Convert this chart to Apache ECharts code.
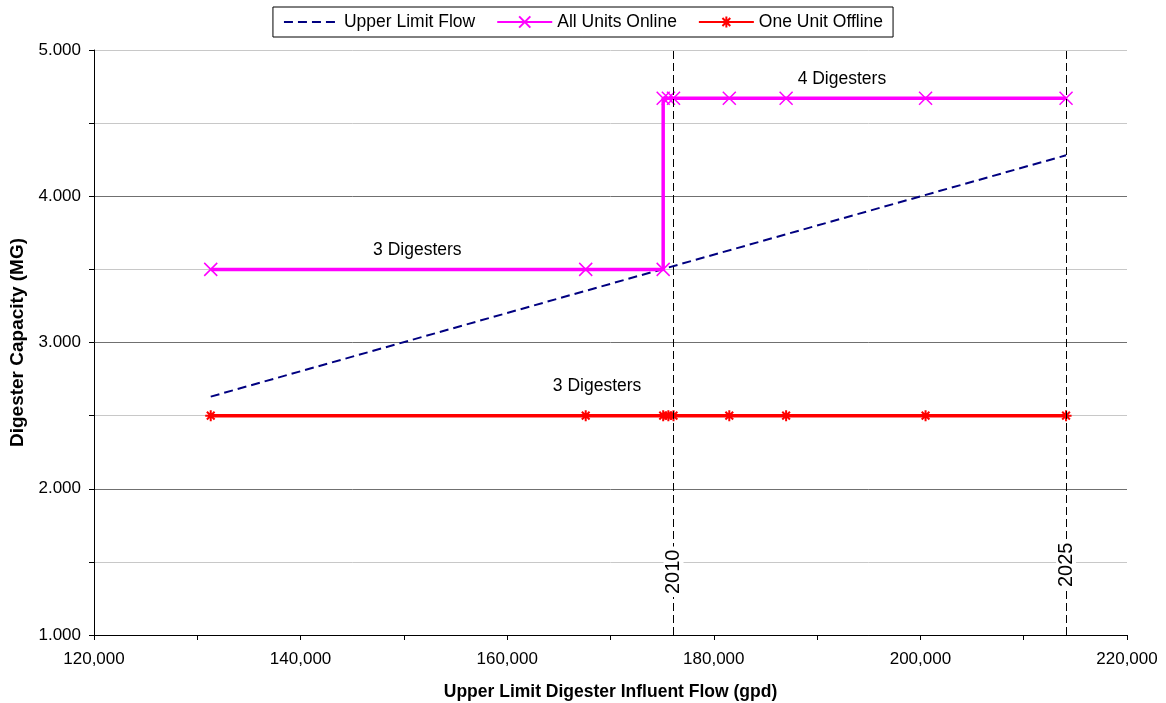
<!DOCTYPE html>
<html>
<head>
<meta charset="utf-8">
<script src="https://cdn.jsdelivr.net/npm/echarts@6/dist/echarts.min.js"></script>
<style>
  html, body { margin: 0; padding: 0; background: #fff; }
  #chart { width: 1166px; height: 703px; }
</style>
</head>
<body>
<div id="chart"></div>
<script>
// 数据
var flowAll = [131300, 167600, 175100, 175100, 175600, 176100, 181500, 187000, 200500, 214100]
var allOnline = [3.5, 3.5, 3.5, 4.67, 4.67, 4.67, 4.67, 4.67, 4.67, 4.67]
var flowOff = [131300, 167600, 175100, 175600, 176100, 181500, 187000, 200500, 214100]
var oneOffline = [2.5, 2.5, 2.5, 2.5, 2.5, 2.5, 2.5, 2.5, 2.5]
var flowUpper = [131300, 214100]
var upperLimit = [2.63, 4.28]
var yearFlow = [176100, 214100]
var yearLabel = ['2010', '2025']
var noteText = ['3 Digesters', '4 Digesters', '3 Digesters']
var noteFlow = [151300, 192400, 168700]
var noteCap = [3.63, 4.80, 2.70]

function zip (xs, ys) {
  return xs.map(function (x, i) { return [x, ys[i]] })
}

var crossPath = 'path://M0,0L10,10M10,0L0,10'
var starPath = 'path://M0,5L10,5M5,0L5,10M1.5,1.5L8.5,8.5M8.5,1.5L1.5,8.5'
var gridDark = '#707070'
var gridLight = '#c8c8c8'
// 年份标签离底部的距离
var yearLabelGap = [38, 45]

var mychart = echarts.init(document.getElementById('chart'))
var option = {
  animation: false,
  textStyle: { fontFamily: 'Liberation Sans, Arial, sans-serif' },
  legend: {
    left: 'center',
    top: 7,
    borderColor: '#000',
    borderWidth: 1,
    borderRadius: 0,
    padding: [6, 10, 6, 10],
    itemWidth: 55,
    itemHeight: 14,
    itemGap: 21,
    textStyle: { fontSize: 17.5, color: '#000' },
    data: ['Upper Limit Flow', 'All Units Online', 'One Unit Offline']
  },
  grid: { left: 94, right: 39, top: 50, bottom: 68, outerBoundsMode: 'none' },
  xAxis: {
    type: 'value',
    min: 120000,
    max: 220000,
    interval: 10000,
    name: 'Upper Limit Digester Influent Flow (gpd)',
    nameLocation: 'middle',
    nameGap: 48,
    nameTextStyle: { fontSize: 17.5, fontWeight: 'bold', color: '#000' },
    axisLine: { lineStyle: { color: '#000', width: 1 } },
    axisTick: { length: 5, lineStyle: { color: '#000' } },
    axisLabel: {
      fontSize: 17,
      color: '#000',
      margin: 16,
      formatter: function (v) {
        return v % 20000 === 0 ? v.toLocaleString('en-US') : ''
      }
    },
    splitLine: { show: false }
  },
  yAxis: {
    type: 'value',
    min: 1,
    max: 5,
    interval: 0.5,
    name: 'Digester Capacity (MG)',
    nameLocation: 'middle',
    nameGap: 62,
    nameTextStyle: { fontSize: 19, fontWeight: 'bold', color: '#000' },
    axisLine: { show: true, lineStyle: { color: '#000', width: 1 } },
    axisTick: { show: true, length: 5, lineStyle: { color: '#000' } },
    axisLabel: {
      fontSize: 17,
      color: '#000',
      margin: 13,
      formatter: function (v) {
        return v % 1 === 0 ? v.toFixed(3) : ''
      }
    },
    splitLine: {
      show: true,
      lineStyle: {
        color: [gridDark, gridLight, gridDark, gridLight, gridDark, gridLight, gridDark, gridLight, gridLight],
        width: 1
      }
    }
  },
  series: [
    {
      name: 'Upper Limit Flow',
      type: 'line',
      data: zip(flowUpper, upperLimit),
      symbol: 'none',
      itemStyle: { color: 'rgba(0,0,0,0)' },
      lineStyle: { color: '#000080', width: 2, type: [9, 5] },
      z: 3
    },
    {
      name: 'All Units Online',
      type: 'line',
      data: zip(flowAll, allOnline),
      symbol: crossPath,
      symbolSize: 13,
      showAllSymbol: true,
      color: '#ff00ff',
      itemStyle: { color: '#ff00ff', borderColor: '#ff00ff', borderWidth: 1.5 },
      lineStyle: { color: '#ff00ff', width: 3.5 },
      z: 4,
      markPoint: {
        symbol: 'circle',
        symbolSize: 0,
        label: { show: true, position: 'inside', fontSize: 17.5, color: '#000', formatter: '{b}' },
        data: [0, 1].map(function (i) {
          return { name: noteText[i], coord: [noteFlow[i], noteCap[i]] }
        })
      }
    },
    {
      name: 'One Unit Offline',
      type: 'line',
      data: zip(flowOff, oneOffline),
      symbol: starPath,
      symbolSize: 11,
      showAllSymbol: true,
      color: '#ff0000',
      itemStyle: { color: '#ff0000', borderColor: '#ff0000', borderWidth: 2 },
      lineStyle: { color: '#ff0000', width: 3.5 },
      z: 4,
      markPoint: {
        symbol: 'circle',
        symbolSize: 0,
        label: { show: true, position: 'inside', fontSize: 17.5, color: '#000', formatter: '{b}' },
        data: [{ name: noteText[2], coord: [noteFlow[2], noteCap[2]] }]
      },
      markLine: {
        silent: true,
        symbol: 'none',
        lineStyle: { color: '#000', width: 1, type: [8, 4] },
        label: {
          show: true,
          position: 'insideStart',
          fontSize: 20,
          color: '#000',
          backgroundColor: '#fff',
          padding: [0, 3],
          formatter: '{b}'
        },
        data: yearFlow.map(function (f, i) {
          return { name: yearLabel[i], xAxis: f, label: { distance: yearLabelGap[i] } }
        })
      }
    }
  ]
}
mychart.setOption(option)
</script>
</body>
</html>
